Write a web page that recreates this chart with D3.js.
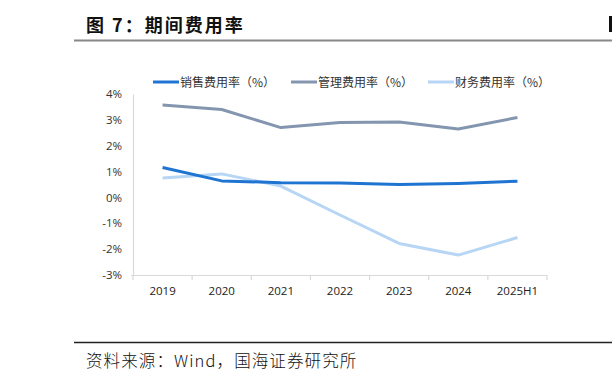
<!DOCTYPE html>
<html><head><meta charset="utf-8">
<script src="https://cdn.jsdelivr.net/npm/d3@7/dist/d3.min.js"></script>
<style>
body{margin:0;background:#fff;}
svg{display:block;}
</style></head>
<body>
<svg id="c" width="612" height="381"></svg>
<script>
const categories = ["2019","2020","2021","2022","2023","2024","2025H1"];
const salesRate = [1.16, 0.64, 0.57, 0.56, 0.50, 0.54, 0.63];
const adminRate = [3.57, 3.40, 2.70, 2.90, 2.92, 2.65, 3.09];
const financeRate = [0.75, 0.91, 0.44, -0.68, -1.78, -2.23, -1.55];
const yTicks = [4, 3, 2, 1, 0, -1, -2, -3];
const seriesNames = ["销售费用率（%）", "管理费用率（%）", "财务费用率（%）"];
const seriesColors = ["#1f74d2", "#8496af", "#b7d5f4"];

const series = [salesRate, adminRate, financeRate];
const svg = d3.select("#c");
const cjk = "'Noto Sans CJK SC', 'Noto Sans', sans-serif";

// title
svg.append("text").attr("x", 86).attr("y", 32)
  .attr("font-family", cjk).attr("font-weight", "bold").attr("font-size", 18)
  .attr("letter-spacing", 2).attr("fill", "#111").text("图 7：期间费用率");
svg.append("line").attr("x1", 74).attr("x2", 612).attr("y1", 40.5).attr("y2", 40.5)
  .attr("stroke", "#888").attr("stroke-width", 2);
svg.append("rect").attr("x", 609).attr("y", 16).attr("width", 3).attr("height", 16).attr("fill", "#111");

// footer
svg.append("line").attr("x1", 74).attr("x2", 612).attr("y1", 342.5).attr("y2", 342.5)
  .attr("stroke", "#222").attr("stroke-width", 1.5);
svg.append("text").attr("x", 86).attr("y", 367)
  .attr("font-family", cjk).attr("font-weight", 300).attr("font-size", 16.5)
  .attr("letter-spacing", 1.1).attr("fill", "#111").text("资料来源：Wind，国海证券研究所");

// scales
const x = d3.scaleBand().domain(categories).range([133, 547]);
const y = d3.scaleLinear().domain([-3, 4]).range([275, 94]);

// y axis
const yAxis = svg.append("g").attr("transform", "translate(133,0)")
  .call(d3.axisLeft(y).tickValues(yTicks).tickFormat(d => d + "%").tickSize(0).tickPadding(11));
yAxis.select(".domain").attr("stroke", "#d9d9d9").attr("stroke-width", 1.2);
yAxis.selectAll("text").attr("font-family", "'Open Sans', sans-serif").attr("font-size", 11.5).attr("fill", "#333");

// x axis
const xAxis = svg.append("g").attr("transform", "translate(0,275)")
  .call(d3.axisBottom(x).tickSize(0).tickPadding(12));
xAxis.select(".domain").attr("stroke", "#d9d9d9").attr("stroke-width", 1.2)
  .attr("d", "M131,0.5H547");
xAxis.selectAll("text").attr("font-family", "'Open Sans', sans-serif").attr("font-size", 11.5).attr("fill", "#222");
const bounds = categories.map(c => x(c)).concat([x.range()[1]]);
svg.append("g").selectAll("line").data(bounds).join("line")
  .attr("x1", d => d).attr("x2", d => d).attr("y1", 275).attr("y2", 280)
  .attr("stroke", "#d9d9d9").attr("stroke-width", 1.2);

// lines
const line = d3.line().x((d, i) => x(categories[i]) + x.bandwidth() / 2).y(d => y(d));
const order = [2, 1, 0];
order.forEach(k => {
  svg.append("path").datum(series[k]).attr("d", line)
    .attr("fill", "none").attr("stroke", seriesColors[k]).attr("stroke-width", 3)
    .attr("stroke-linejoin", "round");
});

// legend
const legendX = [153, 291, 428];
seriesNames.forEach((n, k) => {
  const g = svg.append("g").attr("transform", `translate(${legendX[k]},82)`);
  g.append("line").attr("x1", 0).attr("x2", 26).attr("y1", 0).attr("y2", 0)
    .attr("stroke", seriesColors[k]).attr("stroke-width", 3);
  g.append("text").attr("x", 27).attr("y", 4.5).attr("font-family", cjk)
    .attr("font-size", 12).attr("fill", "#333").text(n);
});
</script>
</body></html>
